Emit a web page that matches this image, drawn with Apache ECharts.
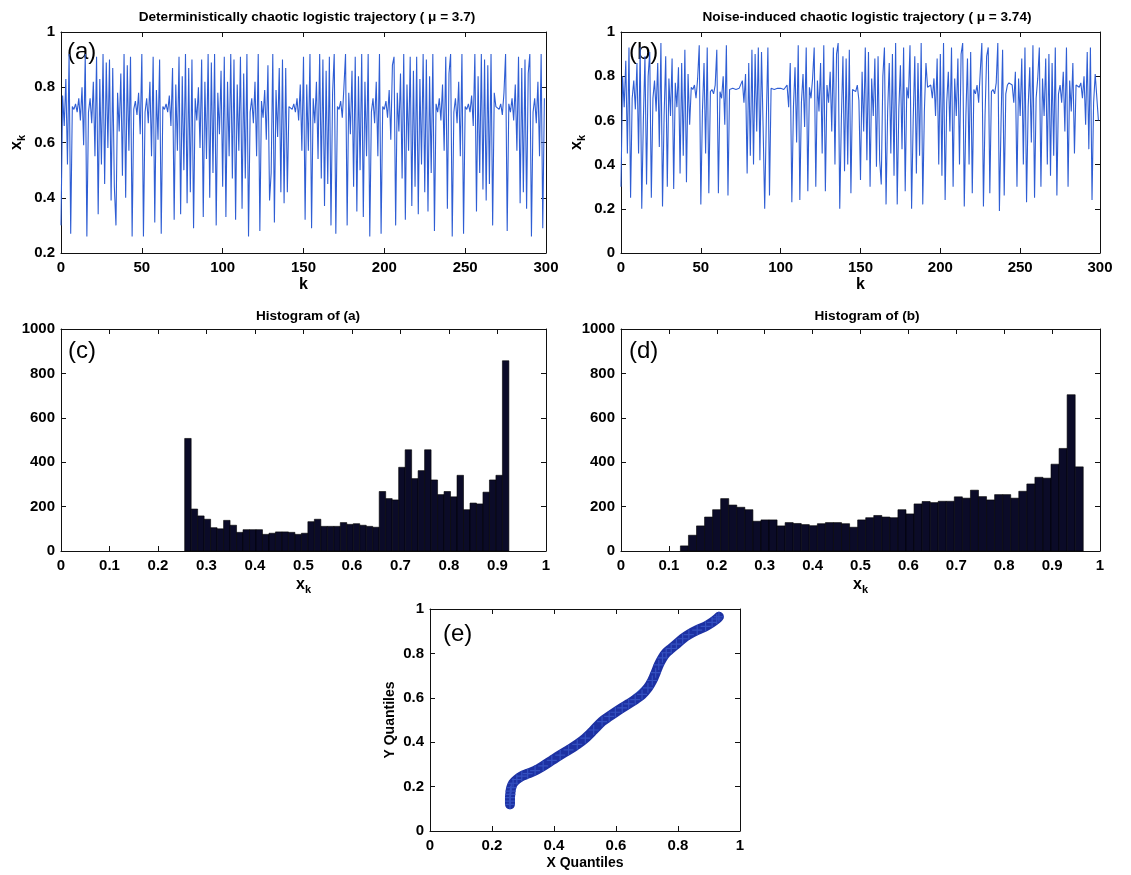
<!DOCTYPE html>
<html>
<head>
<meta charset="utf-8">
<script src="https://cdn.jsdelivr.net/npm/echarts@6/dist/echarts.min.js"></script>
<style>
  html, body { margin: 0; padding: 0; background: #fff; }
  #chart { width: 1131px; height: 875px; }
</style>
</head>
<body>
<div id="chart"></div>
<script>
// ---- (a) deterministic logistic trajectory, mu = 3.7, k = 0..299 ----
const trajA = [
  .30,.77,.66,.83,.52,.92,.27,.73,.72,.74,
  .71,.76,.68,.80,.59,.92,.26,.71,.76,.67,
  .82,.55,.91,.34,.83,.52,.92,.45,.89,.58,
  .90,.39,.87,.44,.30,.78,.64,.85,.48,.92,
  .40,.88,.57,.91,.26,.72,.75,.70,.78,.63,
  .92,.26,.71,.76,.67,.82,.55,.91,.31,.79,
  .61,.90,.27,.73,.72,.74,.71,.77,.66,.87,
  .32,.81,.57,.91,.34,.84,.50,.92,.38,.87,
  .42,.90,.29,.76,.68,.80,.58,.90,.33,.82,
  .54,.92,.40,.89,.49,.92,.30,.78,.63,.86,
  .44,.91,.33,.82,.55,.92,.47,.90,.32,.81,
  .57,.91,.36,.85,.47,.92,.26,.71,.76,.67,
  .82,.55,.92,.28,.75,.69,.79,.61,.88,.39,
  .49,.92,.31,.79,.62,.87,.42,.90,.38,.87,
  .42,.73,.73,.72,.74,.71,.76,.68,.81,.57,
  .91,.32,.81,.57,.92,.29,.76,.67,.82,.54,
  .92,.47,.90,.37,.86,.45,.91,.30,.78,.92,
  .27,.73,.72,.75,.69,.80,.92,.30,.78,.63,
  .86,.44,.91,.35,.84,.50,.92,.33,.82,.55,
  .92,.26,.71,.76,.67,.82,.55,.92,.27,.73,
  .72,.75,.69,.79,.61,.88,.91,.30,.78,.64,
  .85,.47,.92,.32,.81,.57,.91,.37,.86,.44,
  .91,.34,.83,.52,.92,.42,.90,.35,.84,.49,
  .92,.28,.74,.71,.76,.68,.81,.57,.91,.36,
  .85,.92,.26,.71,.76,.67,.82,.55,.92,.27,
  .73,.72,.74,.71,.77,.66,.92,.35,.84,.49,
  .92,.43,.90,.39,.88,.45,.92,.30,.78,.73,
  .73,.72,.74,.70,.78,.92,.28,.74,.71,.76,
  .68,.81,.57,.91,.38,.87,.42,.90,.36,.85,
  .92,.26,.71,.76,.67,.82,.55,.92,.29,.76
];

// ---- (b) noise-induced logistic trajectory, mu = 3.74, k = 0..299 ----
const trajB = [
  .30,.80,.66,.87,.45,.93,.25,.70,.78,.65,
  .86,.45,.93,.20,.60,.89,.31,.80,.91,.25,
  .70,.78,.64,.86,.48,.95,.21,.62,.89,.30,
  .79,.62,.88,.29,.77,.66,.84,.36,.86,.44,
  .92,.32,.81,.58,.75,.74,.76,.70,.79,.94,
  .22,.64,.86,.45,.93,.27,.73,.74,.72,.76,
  .92,.27,.73,.70,.80,.58,.94,.26,.74,.745,
  .745,.745,.74,.745,.745,.74,.78,.68,.81,.36,
  .86,.44,.92,.40,.90,.55,.93,.42,.91,.57,
  .20,.60,.93,.26,.745,.745,.74,.745,.745,.74,
  .745,.75,.74,.75,.76,.66,.86,.23,.66,.84,
  .50,.94,.24,.68,.81,.57,.93,.28,.75,.70,
  .79,.93,.30,.78,.64,.86,.45,.94,.28,.76,
  .68,.82,.55,.93,.40,.90,.95,.20,.60,.89,
  .37,.88,.40,.92,.27,.74,.74,.73,.76,.69,
  .33,.82,.55,.93,.42,.91,.30,.79,.62,.88,
  .39,.89,.42,.31,.80,.93,.22,.64,.86,.45,
  .90,.35,.95,.22,.65,.85,.47,.93,.28,.75,
  .70,.94,.20,.60,.89,.36,.86,.44,.95,.22,
  .64,.86,.75,.75,.76,.70,.79,.62,.88,.40,
  .90,.35,.95,.24,.68,.82,.55,.93,.30,.79,
  .62,.88,.40,.90,.95,.21,.62,.88,.40,.91,
  .27,.74,.72,.76,.68,.82,.95,.21,.62,.89,
  .93,.27,.73,.74,.72,.77,.95,.19,.58,.92,
  .26,.72,.76,.77,.77,.76,.68,.82,.30,.79,
  .62,.88,.40,.93,.23,.66,.84,.50,.94,.25,
  .70,.79,.93,.30,.79,.62,.88,.40,.90,.35,
  .86,.44,.93,.26,.72,.76,.68,.82,.55,.93,
  .30,.78,.64,.86,.45,.76,.76,.75,.77,.70,
  .80,.58,.91,.47,.93,.24,.68,.81,.81,.60
];

// ---- (c) histogram of (a): 50 equal bins over histARange ----
const histARange = [0.255, 0.9235];
const histACounts = [
  507,189,158,143,105,100,138,116, 84, 96,
   96, 96, 75, 80, 86, 86, 84, 75, 80,132,
  143,111,111,111,128,120,123,116,111,107,
  268,236,230,377,456,326,362,456,320,254,
  268,244,341,186,216,212,265,320,341,857
];

// ---- (d) histogram of (b): 50 equal bins over histBRange ----
const histBRange = [0.124, 0.965];
const histBCounts = [
   23, 71,113,153,186,236,207,197,186,134,
  140,140,113,128,124,119,114,123,128,128,
  123,107,140,150,160,153,150,186,167,212,
  223,218,224,224,244,238,274,245,230,254,
  254,238,269,302,332,328,391,462,704,379
];

// ---- (e) quantile-quantile plot ----
const qqX = [0.258,0.258,0.258,0.259,0.260,0.262,0.268,0.280,0.296,0.315,
             0.339,0.365,0.393,0.420,0.447,0.475,0.501,0.528,0.555,0.578,
             0.598,0.620,0.641,0.662,0.684,0.703,0.717,0.728,0.738,0.750,
             0.762,0.778,0.795,0.815,0.835,0.862,0.889,0.910,0.925,0.932];
const qqY = [0.120,0.135,0.150,0.165,0.180,0.195,0.215,0.232,0.247,0.258,
             0.272,0.293,0.318,0.342,0.365,0.390,0.418,0.455,0.493,0.516,
             0.535,0.555,0.573,0.592,0.615,0.645,0.678,0.713,0.748,0.780,
             0.803,0.822,0.842,0.866,0.885,0.905,0.922,0.940,0.955,0.965];
const qqRefX = [0.55, 0.735];
const qqRefY = [0.481, 0.709];

// ---- axis ticks ----
const ticksTraj = { xMin: 0, xMax: 300, xStep: 50 };
const ticksA = { yMin: 0.2, yMax: 1, yStep: 0.2 };
const ticksB = { yMin: 0, yMax: 1, yStep: 0.2 };
const ticksHist = { xMin: 0, xMax: 1, xStep: 0.1, yMin: 0, yMax: 1000, yStep: 200 };
const ticksQQ = { min: 0, max: 1, step: 0.2 };

const FONT = "'Liberation Sans', Arial, Helvetica, sans-serif";
const INK = '#111';
const LINE_BLUE = '#2f5ed4';
const BAR_FILL = '#0b0b28';

const grids = [
  { left: 61,  top: 32,  width: 485, height: 221 },  // (a)
  { left: 621, top: 32,  width: 479, height: 221 },  // (b)
  { left: 61,  top: 329, width: 485, height: 222 },  // (c)
  { left: 621, top: 329, width: 479, height: 222 },  // (d)
  { left: 430, top: 609, width: 310, height: 222 }   // (e)
].map(g => Object.assign({ containLabel: false, outerBoundsMode: 'none' }, g));

const xkName = '{b|x}{s|k}';
const xkRich = {
  b: { fontSize: 16, fontWeight: 'bold', fontFamily: FONT, color: '#000' },
  s: { fontSize: 11, fontWeight: 'bold', fontFamily: FONT, color: '#000', padding: [9, 0, 0, 0] }
};

function axisBase(gridIndex, min, max, step) {
  return {
    type: 'value', gridIndex, min, max, interval: step,
    axisLine: { show: true, onZero: false, lineStyle: { color: INK, width: 1 } },
    axisTick: { show: true, inside: true, length: 5, lineStyle: { color: INK, width: 1 } },
    splitLine: { show: false },
    axisLabel: {
      show: true, color: '#000', fontSize: 15, fontWeight: 'bold', fontFamily: FONT, margin: 7,
      formatter: v => String(+v.toFixed(6))
    }
  };
}
function mirror(ax, position) {
  return Object.assign({}, ax, { position, name: '', axisLabel: { show: false } });
}

const xAxes = [], yAxes = [];
function addPanel(g, xr, yr, xName, yName, xGap, yGap) {
  const xb = Object.assign(axisBase(g, xr[0], xr[1], xr[2]), { position: 'bottom' });
  if (xName) Object.assign(xb, { name: xName.text, nameLocation: 'middle', nameGap: xGap, nameTextStyle: xName.style });
  const yl = Object.assign(axisBase(g, yr[0], yr[1], yr[2]), { position: 'left' });
  yl.axisLabel.margin = 6;
  if (yName) Object.assign(yl, { name: yName.text, nameLocation: 'middle', nameGap: yGap, nameRotate: 90, nameTextStyle: yName.style });
  xAxes.push(xb, mirror(xb, 'top'));
  yAxes.push(yl, mirror(yl, 'right'));
}

const kName = { text: 'k', style: { fontSize: 16, fontWeight: 'bold', fontFamily: FONT, color: '#000' } };
const xkLabel = { text: xkName, style: { rich: xkRich } };

addPanel(0, [ticksTraj.xMin, ticksTraj.xMax, ticksTraj.xStep], [ticksA.yMin, ticksA.yMax, ticksA.yStep], kName, xkLabel, 24, 34);
addPanel(1, [ticksTraj.xMin, ticksTraj.xMax, ticksTraj.xStep], [ticksB.yMin, ticksB.yMax, ticksB.yStep], kName, xkLabel, 24, 34);
addPanel(2, [ticksHist.xMin, ticksHist.xMax, ticksHist.xStep], [ticksHist.yMin, ticksHist.yMax, ticksHist.yStep], xkLabel, null, 24, 0);
addPanel(3, [ticksHist.xMin, ticksHist.xMax, ticksHist.xStep], [ticksHist.yMin, ticksHist.yMax, ticksHist.yStep], xkLabel, null, 24, 0);
addPanel(4, [ticksQQ.min, ticksQQ.max, ticksQQ.step], [ticksQQ.min, ticksQQ.max, ticksQQ.step],
  { text: 'X Quantiles', style: { fontSize: 14, fontWeight: 'bold', fontFamily: FONT, color: '#000' } },
  { text: 'Y Quantiles', style: { fontSize: 14, fontWeight: 'bold', fontFamily: FONT, color: '#000' } }, 25, 33);

function histSeries(panel, range, counts) {
  const w = (range[1] - range[0]) / counts.length;
  return {
    type: 'custom', xAxisIndex: panel * 2, yAxisIndex: panel * 2,
    data: counts.map((c, i) => [range[0] + i * w, range[0] + (i + 1) * w, c]),
    encode: { x: [0, 1], y: 2 },
    renderItem(params, api) {
      const p0 = api.coord([api.value(0), 0]);
      const p1 = api.coord([api.value(1), api.value(2)]);
      return {
        type: 'rect',
        shape: { x: p0[0], y: p1[1], width: p1[0] - p0[0], height: p0[1] - p1[1] },
        style: { fill: BAR_FILL, stroke: '#000', lineWidth: 0.6 }
      };
    }
  };
}

function trajSeries(panel, values) {
  return {
    type: 'line', xAxisIndex: panel * 2, yAxisIndex: panel * 2,
    data: values.map((v, k) => [k, v]),
    showSymbol: false, symbol: 'none',
    lineStyle: { color: LINE_BLUE, width: 1.1 }
  };
}

const qqPoints = qqX.map((x, i) => [x, qqY[i]]);

const titleStyle = { fontSize: 13.6, fontWeight: 'bold', fontFamily: FONT, color: '#000' };

const option = {
  backgroundColor: '#fff',
  animation: false,
  title: [
    { text: 'Deterministically chaotic logistic trajectory ( \u03bc = 3.7)', left: 302, top: 5, textAlign: 'center', textStyle: titleStyle },
    { text: 'Noise-induced chaotic logistic trajectory ( \u03bc = 3.74)', left: 862, top: 5, textAlign: 'center', textStyle: titleStyle },
    { text: 'Histogram of (a)', left: 303, top: 304, textAlign: 'center', textStyle: titleStyle },
    { text: 'Histogram of (b)', left: 862, top: 304, textAlign: 'center', textStyle: titleStyle }
  ],
  grid: grids,
  xAxis: xAxes,
  yAxis: yAxes,
  graphic: [
    { type: 'text', left: 67, top: 40, style: { text: '(a)', fontSize: 24, fontFamily: FONT, fill: '#000' } },
    { type: 'text', left: 629, top: 40, style: { text: '(b)', fontSize: 24, fontFamily: FONT, fill: '#000' } },
    { type: 'text', left: 68, top: 339, style: { text: '(c)', fontSize: 24, fontFamily: FONT, fill: '#000' } },
    { type: 'text', left: 629, top: 339, style: { text: '(d)', fontSize: 24, fontFamily: FONT, fill: '#000' } },
    { type: 'text', left: 443, top: 622, style: { text: '(e)', fontSize: 24, fontFamily: FONT, fill: '#000' } }
  ],
  series: [
    trajSeries(0, trajA),
    trajSeries(1, trajB),
    histSeries(2, histARange, histACounts),
    histSeries(3, histBRange, histBCounts),
    {
      type: 'line', xAxisIndex: 8, yAxisIndex: 8, z: 1,
      data: qqRefX.map((x, i) => [x, qqRefY[i]]),
      showSymbol: false, symbol: 'none',
      lineStyle: { color: '#6f9be6', width: 1 }
    },
    {
      type: 'line', xAxisIndex: 8, yAxisIndex: 8, z: 2,
      data: qqPoints, smooth: 0.3,
      showSymbol: true, symbol: 'path://M5,0 L5,10 M0,5 L10,5', symbolSize: 10,
      itemStyle: { color: 'rgba(0,0,0,0)', borderColor: '#3450c0', borderWidth: 1.2 },
      lineStyle: { color: '#1d31a2', width: 10, cap: 'round', join: 'round' }
    }
  ]
};

const chart = echarts.init(document.getElementById('chart'), null, { renderer: 'canvas' });
chart.setOption(option);
</script>
</body>
</html>
